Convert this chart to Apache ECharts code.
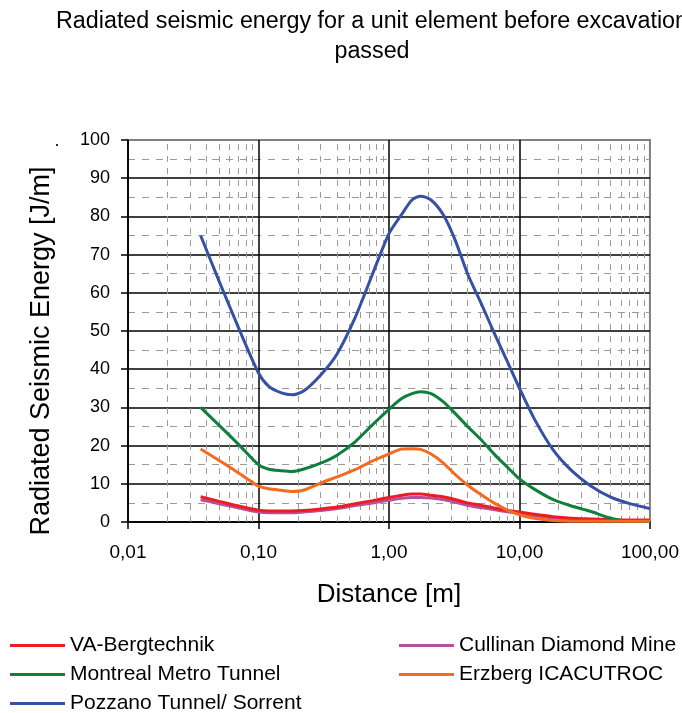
<!DOCTYPE html>
<html>
<head>
<meta charset="utf-8">
<script src="https://cdn.jsdelivr.net/npm/echarts@6/dist/echarts.min.js"></script>
<style>
  html, body { margin: 0; padding: 0; background: #fff; }
  #chart { width: 682px; height: 713px; }
</style>
</head>
<body>
<div id="chart"></div>
<script>
// Distance from the excavation face [m]
const distance = [0.036, 0.05, 0.07, 0.1, 0.12, 0.15, 0.18, 0.22, 0.3, 0.4, 0.55, 0.75,
  1.0, 1.25, 1.5, 1.75, 2.1, 2.6, 3.2, 4.0, 5.0, 6.5, 8.0, 10, 13, 18, 25, 35, 50, 70, 100];

// Radiated seismic energy [J/m] per site
const vaBergtechnik = [6.6, 5.4, 4.2, 3.1, 2.9, 2.9, 2.9, 3.0, 3.4, 3.9, 4.8, 5.6,
  6.4, 7.0, 7.3, 7.3, 7.0, 6.6, 5.9, 5.0, 4.4, 3.6, 3.1, 2.6, 2.0, 1.4, 1.0, 0.8, 0.6, 0.5, 0.5];
const cullinan = [5.8, 4.8, 3.7, 2.6, 2.4, 2.4, 2.4, 2.6, 3.0, 3.5, 4.3, 5.0,
  5.7, 6.2, 6.4, 6.4, 6.3, 5.9, 5.2, 4.4, 3.8, 3.2, 2.7, 2.3, 1.7, 1.1, 0.7, 0.4, 0.3, 0.3, 0.3];
const montreal = [30, 25.3, 20.4, 15, 13.8, 13.4, 13.2, 13.8, 15.4, 17.5, 21, 25.5,
  29.5, 32.3, 33.6, 34.1, 33.6, 31.5, 28.5, 25, 21.8, 17.5, 14.5, 11.3, 8.6, 5.9, 4.2, 2.8, 1.0, 0.2, 0.2];
const erzberg = [19.1, 16.1, 12.9, 9.4, 8.7, 8.3, 8.0, 8.3, 10.2, 11.8, 13.7, 16,
  17.8, 19.1, 19.2, 19.0, 17.8, 15.5, 12.5, 9.7, 7.3, 4.8, 3.2, 1.9, 1.0, 0.4, 0.2, 0.2, 0.2, 0.2, 0.2];
const pozzano = [75, 63, 51, 39, 35.5, 33.8, 33.3, 34.2, 38.5, 44, 53.5, 65,
  75.5, 80.5, 84.3, 85.3, 84.3, 80.5, 74, 65, 57.8, 49, 42.3, 35, 27, 19, 13.5, 9.5, 6.5, 4.8, 3.5];

// Intermediate decade positions for the dashed vertical grid
const minorX = [];
[0.01, 0.1, 1, 10].forEach(function (d) {
  for (let k = 2; k <= 9; k++) minorX.push(+(d * k).toPrecision(3));
});

const FONT = '"Liberation Sans", Arial, sans-serif';

function pairs(values) {
  return distance.map(function (x, i) { return [x, values[i]]; });
}

function lineSeries(name, values, color) {
  return {
    name: name,
    type: 'line',
    data: pairs(values),
    showSymbol: false,
    symbol: 'none',
    smooth: 0.25,
    lineStyle: { color: color, width: 3 },
    itemStyle: { color: color },
    z: 3
  };
}

// One legend entry per row, laid out in two columns
function legendEntry(left, top, name) {
  return {
    orient: 'horizontal',
    left: left,
    top: top,
    padding: 0,
    itemWidth: 55,
    itemHeight: 3,
    icon: 'rect',
    data: [name],
    textStyle: { fontFamily: FONT, fontSize: 21, color: '#000', lineHeight: 18 }
  };
}

const chart = echarts.init(document.getElementById('chart'), null, { renderer: 'canvas' });

chart.setOption({
  animation: false,
  backgroundColor: '#ffffff',
  graphic: [{
    type: 'text',
    x: 372,
    y: 7,
    style: {
      text: 'Radiated seismic energy for a unit element before excavation\npassed',
      textAlign: 'center',
      font: '23.3px ' + FONT,
      lineHeight: 30,
      fill: '#000'
    }
  }, {
    type: 'text',
    x: 42,
    y: 351,
    rotation: Math.PI / 2,
    style: {
      text: 'Radiated Seismic Energy [J/m]',
      textAlign: 'center',
      textVerticalAlign: 'middle',
      font: '27px ' + FONT,
      fill: '#000'
    }
  }, {
    type: 'text',
    x: 57,
    y: 150,
    style: {
      text: '.',
      textAlign: 'center',
      textVerticalAlign: 'bottom',
      font: '18px ' + FONT,
      fill: '#000'
    }
  }],
  grid: {
    left: 128, right: 32, top: 140, bottom: 191,
    show: true,
    borderColor: '#808080',
    borderWidth: 2,
    backgroundColor: 'transparent'
  },
  legend: [
    legendEntry(10, 635, 'VA-Bergtechnik'),
    legendEntry(10, 664, 'Montreal Metro Tunnel'),
    legendEntry(10, 693, 'Pozzano Tunnel/ Sorrent'),
    legendEntry(399, 635, 'Cullinan Diamond Mine'),
    legendEntry(399, 664, 'Erzberg ICACUTROC')
  ],
  xAxis: {
    type: 'log',
    logBase: 10,
    min: 0.01,
    max: 100,
    name: 'Distance [m]',
    nameLocation: 'middle',
    nameGap: 60,
    nameTextStyle: { fontFamily: FONT, fontSize: 26, color: '#000' },
    axisLine: { show: true, lineStyle: { color: '#000', width: 1.5 } },
    axisTick: { show: true, inside: false, length: 7, lineStyle: { color: '#000', width: 1.5 } },
    axisLabel: {
      fontFamily: FONT, fontSize: 19, color: '#000', margin: 21,
      formatter: function (v) { return Number(v).toFixed(2).replace('.', ','); }
    },
    splitLine: { show: true, showMaxLine: false, lineStyle: { color: '#000', width: 1.5 } }
  },
  yAxis: {
    type: 'value',
    min: 0,
    max: 100,
    interval: 10,
    axisLine: { show: true, lineStyle: { color: '#000', width: 1.5 } },
    axisTick: { show: true, inside: false, length: 7, lineStyle: { color: '#000', width: 1.5 } },
    axisLabel: { fontFamily: FONT, fontSize: 18, color: '#000', margin: 18 },
    splitLine: { show: true, showMaxLine: false, lineStyle: { color: '#000', width: 1.5 } },
    minorTick: { show: false, splitNumber: 2 },
    minorSplitLine: { show: true, lineStyle: { color: '#9a9a9a', width: 1, type: [7, 7] } }
  },
  series: [
    {
      name: 'minor-grid',
      type: 'line',
      data: [],
      silent: true,
      z: 1,
      markLine: {
        silent: true,
        z: 1,
        symbol: ['none', 'none'],
        label: { show: false },
        lineStyle: { color: '#9a9a9a', width: 1, type: [6, 6] },
        data: minorX.map(function (x) { return { xAxis: x }; })
      }
    },
    lineSeries('Cullinan Diamond Mine', cullinan, '#b5509c'),
    lineSeries('VA-Bergtechnik', vaBergtechnik, '#ec1c24'),
    lineSeries('Montreal Metro Tunnel', montreal, '#0f7f3c'),
    lineSeries('Erzberg ICACUTROC', erzberg, '#f36a21'),
    lineSeries('Pozzano Tunnel/ Sorrent', pozzano, '#3451a3')
  ]
});
</script>
</body>
</html>
